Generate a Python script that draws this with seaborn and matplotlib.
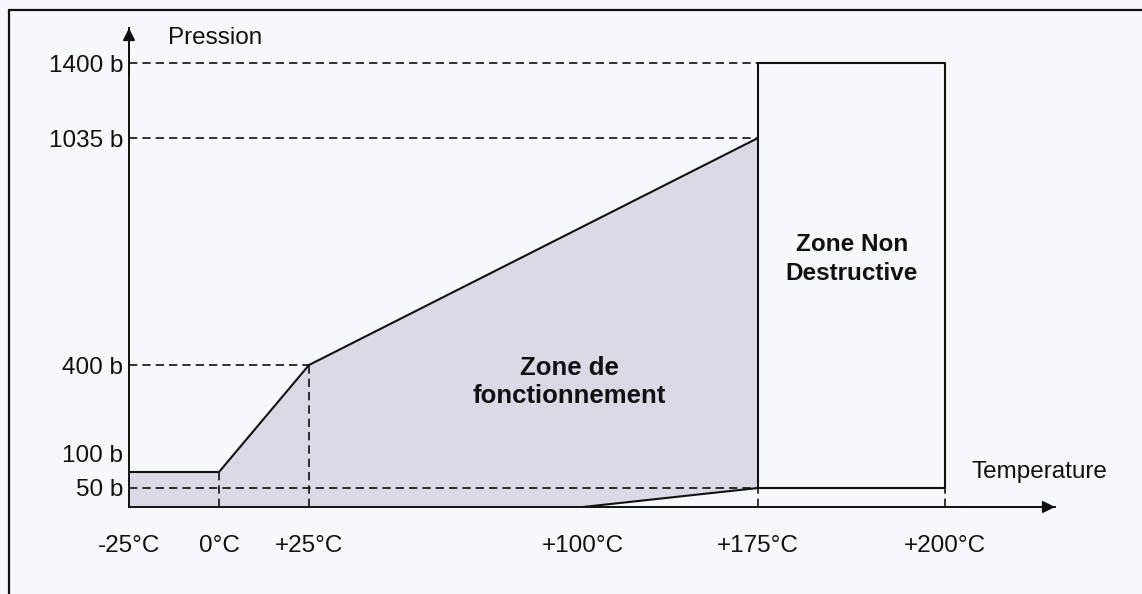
import numpy as np
import pandas as pd
import matplotlib
matplotlib.use("Agg")
import matplotlib.pyplot as plt
import seaborn as sns
from matplotlib.lines import Line2D
from matplotlib.transforms import ScaledTranslation

# ---------------- data ----------------
temp_ticks = [-25, 0, 25, 100, 175, 200]
temp_labels = ["-25°C", "0°C", "+25°C", "+100°C", "+175°C", "+200°C"]
press_ticks = [50, 100, 400, 1035, 1400]
press_labels = ["50 b", "100 b", "400 b", "1035 b", "1400 b"]

# upper limit of the operating zone
upper_T = [-25, 0, 25, 175]
upper_P = [100, 100, 400, 1035]
# lower limit of the operating zone
lower_T = [100, 175]
lower_P = [0, 50]
# non destructive zone (temperature range, pressure range)
nd_T = [175, 200]
nd_P = [50, 1400]

# ---------------- layout (schematic, non-linear axes) ----------------
W, H = 1142, 594
x_knot_val = [-25, 0, 25, 100, 175, 200, 230]
x_knot_px = [129, 219, 309, 583, 758, 945, 1055]
y_knot_val = [0, 50, 100, 400, 1035, 1400, 1520]
y_knot_px = [H - p for p in [507, 488, 472, 365, 138, 63, 28]]

def fx(v):
    return np.interp(v, x_knot_val, x_knot_px)

def ix(p):
    return np.interp(p, x_knot_px, x_knot_val)

def fy(v):
    return np.interp(v, y_knot_val, y_knot_px)

def iy(p):
    return np.interp(p, y_knot_px, y_knot_val)

BG = "#f7f8fb"
FILL = "#dad9e5"
INK = "#111111"
FS = 17.5

sns.set_theme(style="white")
plt.rcParams["font.family"] = ["Liberation Sans", "DejaVu Sans"]

fig = plt.figure(figsize=(W / 100, H / 100), dpi=100, facecolor=BG)
ax = fig.add_axes([x_knot_px[0] / W, y_knot_px[0] / H,
                   (x_knot_px[-1] - x_knot_px[0]) / W,
                   (y_knot_px[-1] - y_knot_px[0]) / H])
ax.set_facecolor("none")
ax.set_xscale("function", functions=(fx, ix))
ax.set_yscale("function", functions=(fy, iy))
ax.set_xlim(x_knot_val[0], x_knot_val[-1])
ax.set_ylim(y_knot_val[0], y_knot_val[-1])

# operating zone fill
poly_T = [upper_T[0]] + upper_T + [lower_T[1], lower_T[0]]
poly_P = [0] + upper_P + [lower_P[1], lower_P[0]]
ax.fill(poly_T, poly_P, color=FILL, lw=0, zorder=1)

# dashed reference lines
dash = dict(color=INK, lw=1.2, ls=(0, (5, 3)), zorder=2)
x0 = temp_ticks[0]
ax.plot([x0, nd_T[0]], [1400, 1400], **dash)
ax.plot([x0, nd_T[0]], [1035, 1035], **dash)
ax.plot([x0, 25], [400, 400], **dash)
ax.plot([x0, nd_T[0]], [50, 50], **dash)
ax.plot([0, 0], [0, 100], **dash)
ax.plot([25, 25], [0, 400], **dash)
ax.plot([175, 175], [0, 50], **dash)
ax.plot([200, 200], [0, 50], **dash)

# solid boundaries
df_up = pd.DataFrame({"T": upper_T, "P": upper_P})
sns.lineplot(data=df_up, x="T", y="P", sort=False, estimator=None,
             color=INK, lw=1.5, ax=ax, zorder=3)
df_low = pd.DataFrame({"T": lower_T, "P": lower_P})
sns.lineplot(data=df_low, x="T", y="P", sort=False, estimator=None,
             color=INK, lw=1.5, ax=ax, zorder=3)
box_T = [nd_T[0], nd_T[0], nd_T[1], nd_T[1], nd_T[0]]
box_P = [nd_P[0], nd_P[1], nd_P[1], nd_P[0], nd_P[0]]
ax.plot(box_T, box_P, color=INK, lw=1.5, zorder=3)

# axes with arrows
for s in ["top", "right"]:
    ax.spines[s].set_visible(False)
for s in ["left", "bottom"]:
    ax.spines[s].set_color(INK)
    ax.spines[s].set_linewidth(1.4)
ax.annotate("", xy=(1.0, 0), xytext=(0.9, 0), xycoords="axes fraction",
            arrowprops=dict(arrowstyle="-|>", color=INK, lw=1.4,
                            mutation_scale=18, shrinkA=0, shrinkB=0))
ax.annotate("", xy=(0, 1.0), xytext=(0, 0.9), xycoords="axes fraction",
            arrowprops=dict(arrowstyle="-|>", color=INK, lw=1.4,
                            mutation_scale=18, shrinkA=0, shrinkB=0))

ax.set_xlabel("")
ax.set_ylabel("")
ax.set_xticks(temp_ticks)
ax.set_xticklabels(temp_labels)
ax.set_yticks(press_ticks)
ax.set_yticklabels(press_labels)
ax.minorticks_off()
ax.tick_params(axis="x", length=0, pad=20, labelsize=FS, colors=INK)
ax.tick_params(axis="y", length=0, pad=4, labelsize=FS, colors=INK)
ax.grid(False)
# the "100 b" label sits slightly above its step
lab = ax.get_yticklabels()[1]
lab.set_transform(lab.get_transform() + ScaledTranslation(0, 19 / 100, fig.dpi_scale_trans))

fig.text(168 / W, 1 - 38 / H, "Pression", fontsize=FS, color=INK,
         ha="left", va="center")
fig.text(972 / W, 1 - 472 / H, "Temperature", fontsize=FS, color=INK,
         ha="left", va="center")
fig.text(569 / W, 1 - 382 / H, "Zone de\nfonctionnement", fontsize=18.5,
         fontweight="bold", color=INK, ha="center", va="center", linespacing=1.25)
fig.text(852 / W, 1 - 259 / H, "Zone Non\nDestructive", fontsize=17.5,
         fontweight="bold", color=INK, ha="center", va="center", linespacing=1.35)

# outer frame (left and top edges)
fig.add_artist(Line2D([9 / W, 9 / W], [0, 1 - 10 / H], transform=fig.transFigure,
                      color=INK, lw=1.6))
fig.add_artist(Line2D([9 / W, 1], [1 - 10 / H, 1 - 10 / H], transform=fig.transFigure,
                      color=INK, lw=1.6))

fig.savefig("out.png", dpi=100, facecolor=BG)
